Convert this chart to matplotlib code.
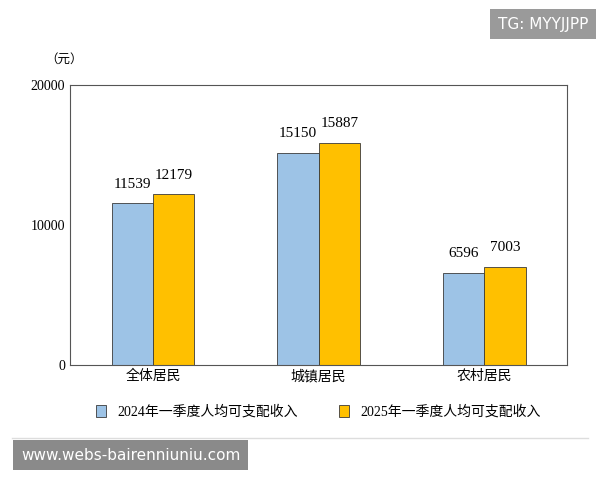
import matplotlib
matplotlib.use("Agg")
import matplotlib.pyplot as plt
import numpy as np

plt.rcParams['font.family'] = ['Liberation Serif', 'Noto Sans CJK SC', 'DejaVu Sans']

categories = ["全体居民", "城镇居民", "农村居民"]
income_2024 = [11539, 15150, 6596]
income_2025 = [12179, 15887, 7003]
series_names = ["2024年一季度人均可支配收入", "2025年一季度人均可支配收入"]

fig = plt.figure(figsize=(6, 4.8), dpi=100)
ax = fig.add_axes([0.117, 0.24, 0.828, 0.583])

x = np.arange(len(categories))
w = 0.25
b1 = ax.bar(x - w / 2, income_2024, w, color="#9DC3E6", edgecolor="#3a3a3a", linewidth=0.6, label=series_names[0])
b2 = ax.bar(x + w / 2, income_2025, w, color="#FFC000", edgecolor="#3a3a3a", linewidth=0.6, label=series_names[1])
for bars in (b1, b2):
    for r in bars:
        ax.text(r.get_x() + r.get_width() / 2, r.get_height() + 900, f"{int(r.get_height())}",
                ha="center", va="bottom", fontsize=11)

ax.set_xlim(-0.5, 2.5)
ax.set_ylim(0, 20000)
ax.set_yticks([0, 10000, 20000])
ax.set_xticks(x)
ax.set_xticklabels(categories, fontsize=10)
ax.tick_params(axis="y", labelsize=10, length=0)
ax.tick_params(axis="x", length=0)
for s in ax.spines.values():
    s.set_color("#555555")
    s.set_linewidth(0.8)

fig.text(0.075, 0.87, "（元）", fontsize=9)
ax.legend(loc="upper center", bbox_to_anchor=(0.5, -0.1), ncol=2, frameon=False,
          fontsize=10, handlelength=0.7, handleheight=0.9, columnspacing=3)

fig.add_artist(plt.Line2D([0.02, 0.98], [0.088, 0.088], color="#dddddd", lw=1))
fig.text(0.98, 0.95, "TG: MYYJJPP", ha="right", va="center", color="white", fontsize=11,
         family="DejaVu Sans", bbox=dict(boxstyle="square,pad=0.5", fc="#9a9a9a", ec="none"))
fig.text(0.035, 0.052, "www.webs-bairenniuniu.com", ha="left", va="center", color="white", fontsize=11,
         family="DejaVu Sans", bbox=dict(boxstyle="square,pad=0.5", fc="#8a8a8a", ec="none"))

fig.savefig("out.png")
